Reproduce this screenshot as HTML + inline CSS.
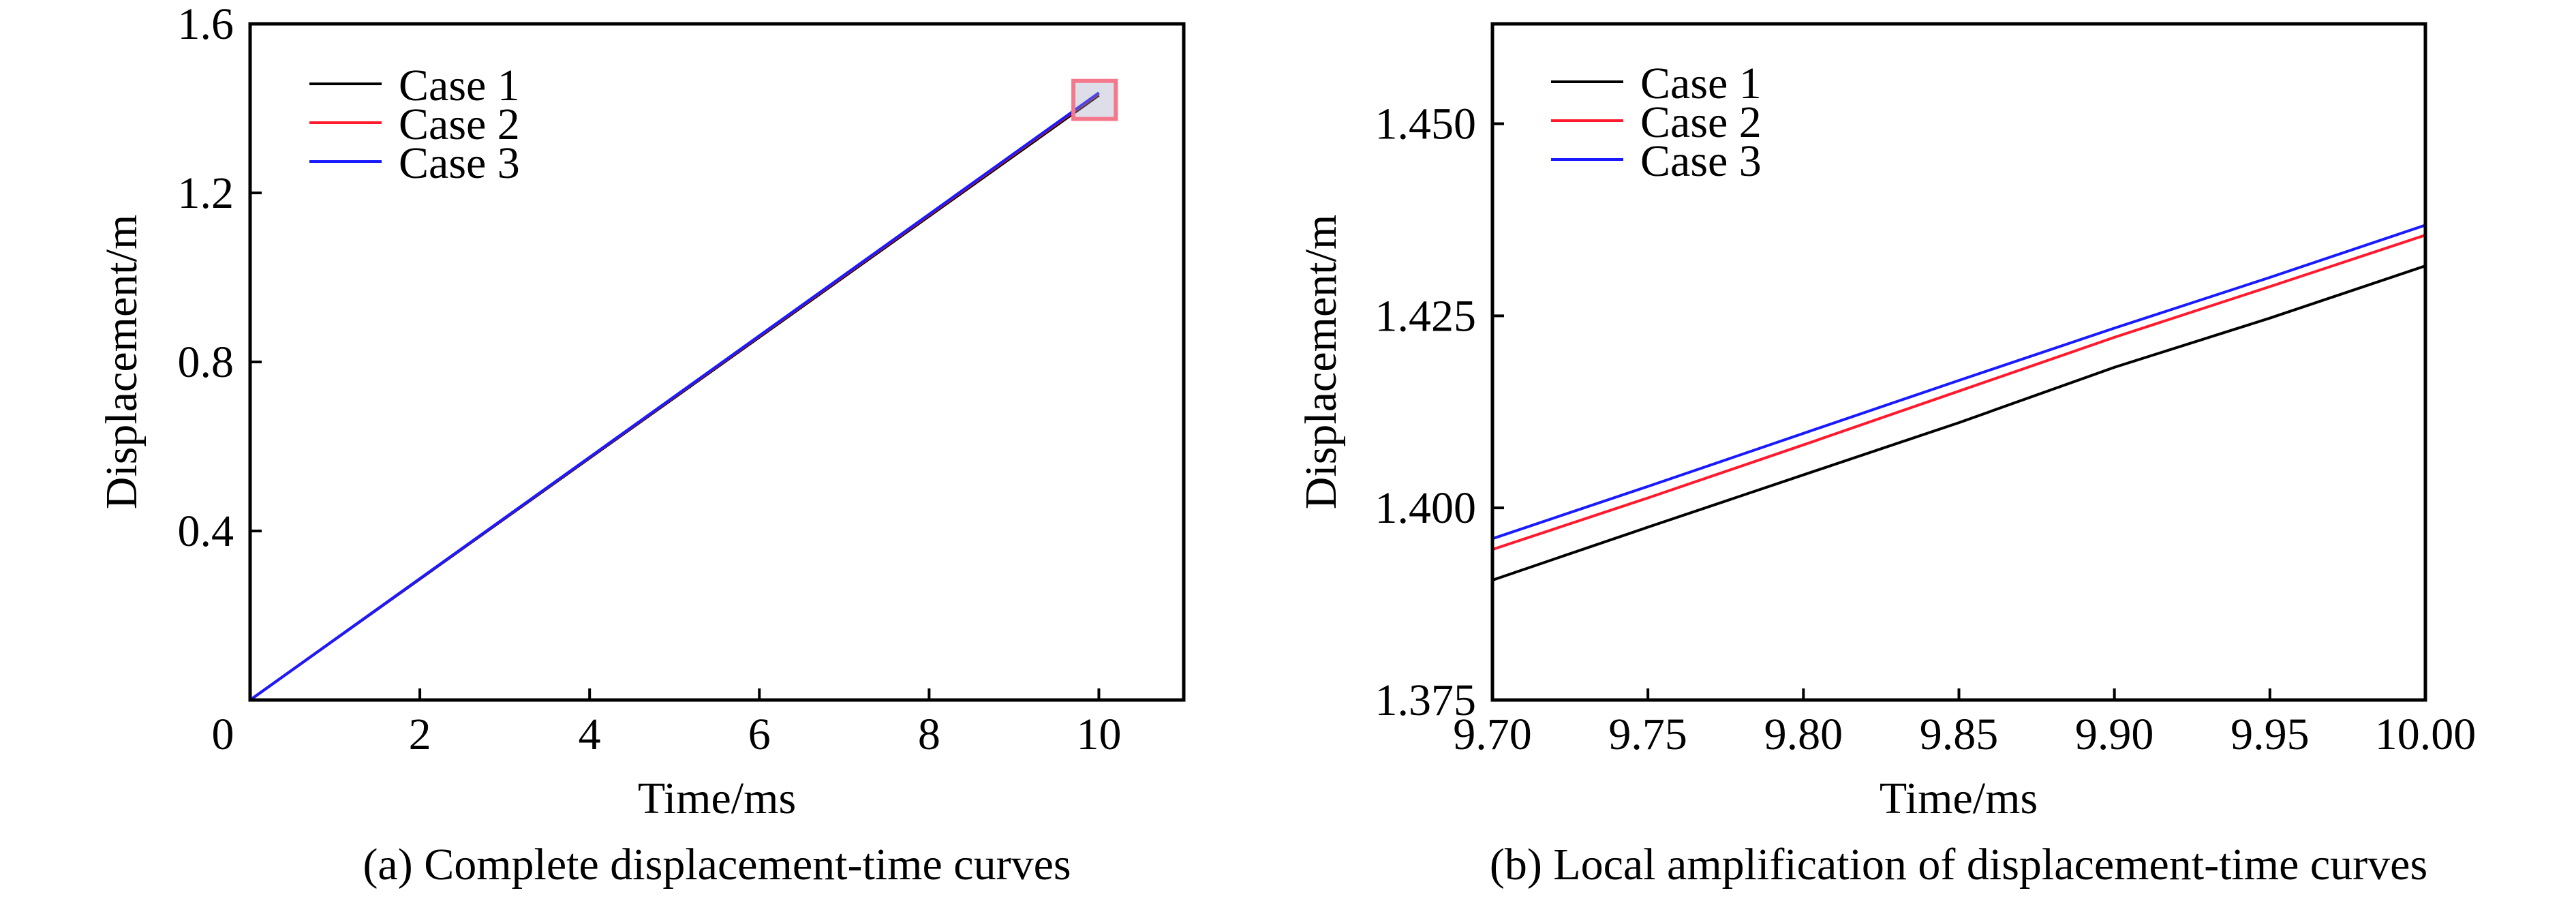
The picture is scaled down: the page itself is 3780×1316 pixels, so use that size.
<!DOCTYPE html>
<html><head><meta charset="utf-8"><style>
html,body{margin:0;padding:0;background:#fff}
svg text{font-family:"Liberation Serif",serif;fill:#000}
</style></head><body>
<svg id="fig" width="3780" height="1311" viewBox="0 0 3780 1311" xmlns="http://www.w3.org/2000/svg"></svg>
<script>
// Panel (a) data
const aTicksX = [0, 2, 4, 6, 8, 10];
const aTicksY = [0.4, 0.8, 1.2, 1.6];
const aTime = [0, 10];
const aCase1 = [0, 1.431];
const aCase2 = [0, 1.435];
const aCase3 = [0, 1.437];
// Panel (b) data
const bTime = [9.70, 9.75, 9.80, 9.85, 9.90, 9.95, 10.00];
const bCase1 = [1.3906, 1.3975, 1.4043, 1.4111, 1.4183, 1.4247, 1.4315];
const bCase2 = [1.3946, 1.4013, 1.4082, 1.4152, 1.4222, 1.4288, 1.4355];
const bCase3 = [1.3960, 1.4028, 1.4097, 1.4166, 1.4234, 1.4300, 1.4368];
const bTicksX = [9.70, 9.75, 9.80, 9.85, 9.90, 9.95, 10.00];
const bTickLabelsX = ["9.70","9.75","9.80","9.85","9.90","9.95","10.00"];
const bTicksY = [1.375, 1.400, 1.425, 1.450];
const bTickLabelsY = ["1.375","1.400","1.425","1.450"];
const caseNames = ["Case 1", "Case 2", "Case 3"];
const caseColors = ["#000000", "#ff1a2e", "#1a1aff"];

const FS = 66;
const NS = "http://www.w3.org/2000/svg";
const svg = document.getElementById('fig');
function mk(tag, attrs, parent, text){
  const e = document.createElementNS(NS, tag);
  for (const k in attrs) e.setAttribute(k, attrs[k]);
  if (text !== undefined) e.textContent = text;
  (parent || svg).appendChild(e);
  return e;
}

function panel(cfg){
  const g = mk('g', {});
  
  
  const sx = v => cfg.x0 + (v - cfg.xmin) / (cfg.xmax - cfg.xmin) * (cfg.x1 - cfg.x0);
  const sy = v => cfg.y1 - (v - cfg.ymin) / (cfg.ymax - cfg.ymin) * (cfg.y1 - cfg.y0);
  cfg.series.forEach((s, i) => {
    const d = s.map((v, j) => (j ? 'L' : 'M') + sx(cfg.xs[j]).toFixed(1) + ',' + sy(v).toFixed(1)).join(' ');
    const p = mk('path', {d: d, fill: 'none', stroke: caseColors[i], 'stroke-width': 4}, g);
    
    
  });
  const fr = mk('rect', {x: cfg.x0, y: cfg.y0, width: cfg.x1 - cfg.x0, height: cfg.y1 - cfg.y0, fill: 'none', stroke: '#000', 'stroke-width': 5}, g);
  
  
  cfg.ticksX.forEach((t, i) => {
    const x = sx(t);
    if (t !== cfg.xmin && t !== cfg.xmax) mk('line', {x1: x, x2: x, y1: cfg.y1, y2: cfg.y1 - 17, stroke: '#000', 'stroke-width': 4}, g);
    const lbl = mk('text', {x: x + (cfg.xLabelShift && i === 0 ? cfg.xLabelShift : 0), y: 1099, 'font-size': FS, 'text-anchor': 'middle'}, g, cfg.labelsX[i]);
    
    
  });
  cfg.ticksY.forEach((t, i) => {
    const y = sy(t);
    if (t !== cfg.ymin && t !== cfg.ymax) mk('line', {x1: cfg.x0, x2: cfg.x0 + 17, y1: y, y2: y, stroke: '#000', 'stroke-width': 4}, g);
    const lbl = mk('text', {x: cfg.x0 - 24, y: y + 22, 'font-size': FS, 'text-anchor': 'end'}, g, cfg.labelsY[i]);
    
    
  });
  const xt = mk('text', {x: cfg.titleX, y: 1193, 'font-size': FS, 'text-anchor': 'middle'}, g, 'Time/ms');
  
  
  const yt = mk('text', {x: 0, y: 0, 'font-size': FS, 'text-anchor': 'middle', transform: 'translate(' + cfg.yTitleX + ',531) rotate(-90)'}, g, 'Displacement/m');
  
  
  const cap = mk('text', {x: cfg.titleX, y: 1290, 'font-size': FS, 'text-anchor': 'middle'}, g, cfg.caption);
  
  
  const lg = mk('g', {}, g);
  
  
  caseNames.forEach((n, i) => {
    const y = cfg.legY + i * 57;
    const e = mk('g', {}, lg);
    
    
    mk('line', {x1: cfg.legX, x2: cfg.legX + 106, y1: y, y2: y, stroke: caseColors[i], 'stroke-width': 4}, e);
    mk('text', {x: cfg.legX + 131, y: y + 24, 'font-size': FS}, e, n);
  });
  return {g, sx, sy};
}

const A = panel({
  name: 'panel-a-chart', x0: 367, x1: 1737, y0: 35, y1: 1027,
  xmin: 0, xmax: 11, ymin: 0, ymax: 1.6,
  xs: aTime, series: [aCase1, aCase2, aCase3],
  ticksX: aTicksX, labelsX: aTicksX.map(String), xLabelShift: -40,
  ticksY: aTicksY, labelsY: aTicksY.map(v => v.toFixed(1)),
  titleX: 1052, yTitleX: 200, caption: '(a) Complete displacement-time curves',
  legX: 454, legY: 123
});
const zb = mk('rect', {x: A.sx(9.7), y: A.sy(1.465), width: A.sx(10.2) - A.sx(9.7), height: A.sy(1.375) - A.sy(1.465), fill: 'rgba(160,160,190,0.35)', stroke: '#f4788c', 'stroke-width': 6}, A.g);



panel({
  name: 'panel-b-chart', x0: 2190, x1: 3559, y0: 35, y1: 1027,
  xmin: 9.70, xmax: 10.00, ymin: 1.375, ymax: 1.463,
  xs: bTime, series: [bCase1, bCase2, bCase3],
  ticksX: bTicksX, labelsX: bTickLabelsX,
  ticksY: bTicksY, labelsY: bTickLabelsY,
  titleX: 2874, yTitleX: 1960, caption: '(b) Local amplification of displacement-time curves',
  legX: 2276, legY: 120
});
</script>
</body></html>
